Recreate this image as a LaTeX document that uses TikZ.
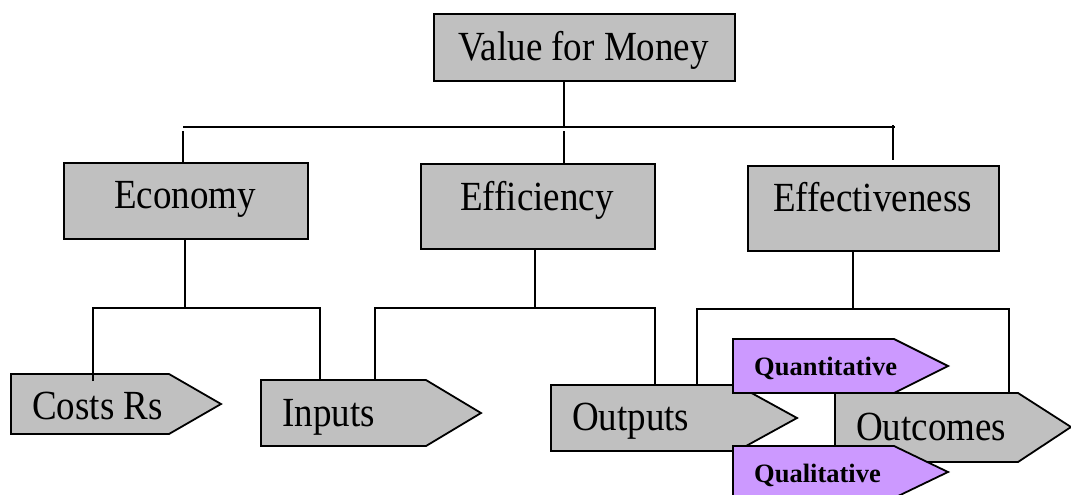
\documentclass[tikz,border=0pt]{standalone}
\usepackage{graphicx}
\usepackage{fontspec}
\setmainfont{Liberation Serif}
\definecolor{boxgray}{HTML}{C0C0C0}
\definecolor{purp}{HTML}{CC99FF}
\newcommand{\vstr}[1]{\scalebox{1}[1.12]{#1}}
\begin{document}
\begin{tikzpicture}[x=1pt,y=-1pt,line join=miter,
  box/.style={draw=black,line width=1.8pt,fill=boxgray,inner sep=0pt,anchor=north west},
  conn/.style={draw=black,line width=1.5pt},
  shp/.style={draw=black,line width=1.8pt},
  big/.style={font=\fontsize{37}{40}\selectfont,inner sep=0pt},
  small/.style={font=\fontsize{26.5}{28}\selectfont\bfseries,inner sep=0pt}]
\useasboundingbox (0,0) rectangle (1071,495);
% level 1 and 2 boxes
\node[box,minimum width=301pt,minimum height=67pt] (vfm) at (433,13) {};
\node[big,anchor=base] (vfmt) at (583.5,60) {\vstr{Value for Money}};
\node[box,minimum width=244pt,minimum height=76pt] (econ) at (63,162) {};
\node[big,anchor=base] (econt) at (185,208) {\vstr{Economy}};
\node[box,minimum width=234pt,minimum height=85pt] (eff) at (420,163) {};
\node[big,anchor=base] (efft) at (537,210) {\vstr{Efficiency}};
\node[box,minimum width=251pt,minimum height=85pt] (efv) at (747,165) {};
\node[big,anchor=base] (efvt) at (872.5,211) {\vstr{Effectiveness}};
% pentagons
\filldraw[shp,fill=boxgray] (11,374) -- (169,374) -- (221,404) -- (169,434) -- (11,434) -- cycle;
\node[big,anchor=base west] (costs) at (32,419) {\vstr{Costs Rs}};
\filldraw[shp,fill=boxgray] (261,380) -- (426,380) -- (481,413) -- (426,446) -- (261,446) -- cycle;
\node[big,anchor=base west] (inputs) at (282,426) {\vstr{Inputs}};
\filldraw[shp,fill=boxgray] (551,385) -- (737,385) -- (797,418) -- (737,451) -- (551,451) -- cycle;
\node[big,anchor=base west] (outputs) at (572,430) {\vstr{Outputs}};
\filldraw[shp,fill=boxgray] (835,393) -- (1018,393) -- (1071,427) -- (1018,462) -- (835,462) -- cycle;
\node[big,anchor=base west] (outcomes) at (856,440) {\vstr{Outcomes}};
\filldraw[shp,fill=purp] (733,339) -- (894,339) -- (948,366) -- (894,393) -- (733,393) -- cycle;
\node[small,anchor=base west] (quant) at (754,375) {Quantitative};
\filldraw[shp,fill=purp] (733,446) -- (894,446) -- (948,472) -- (894,498) -- (733,498) -- cycle;
\node[small,anchor=base west] (qual) at (754,482) {Qualitative};
% top bracket
\coordinate (j0) at (564,127);
\coordinate (hl) at (183,127);
\coordinate (hr) at (895,127);
\coordinate (r1) at (893,125);
\draw[conn] (vfm.south -| j0) -- (j0);
\draw[conn] (hl) -- (hr);
\draw[conn] ([yshift=-4pt]hl) -- (econ.north -| hl);
\draw[conn] ([yshift=-4pt]j0) -- (eff.north -| j0);
\draw[conn] (r1) -- ([yshift=5pt]efv.north -| r1);
% economy bracket
\coordinate (e1) at (185,308);
\coordinate (cA) at (93,381);
\coordinate (cB) at (320,380);
\draw[conn] (econ.south -| e1) -- (e1);
\draw[conn] (cA) |- (e1 -| cB) -- (cB);
% efficiency bracket
\coordinate (f1) at (535,308);
\coordinate (cC) at (375,380);
\coordinate (cD) at (655,384);
\draw[conn] (eff.south -| f1) -- (f1);
\draw[conn] (cC) |- (f1 -| cD) -- (cD);
% effectiveness bracket
\coordinate (g1) at (853,309);
\coordinate (cE) at (697,385);
\coordinate (cF) at (1009,392);
\draw[conn] (efv.south -| g1) -- (g1);
\draw[conn] (cE) |- (g1 -| cF) -- (cF);
\end{tikzpicture}
\end{document}
